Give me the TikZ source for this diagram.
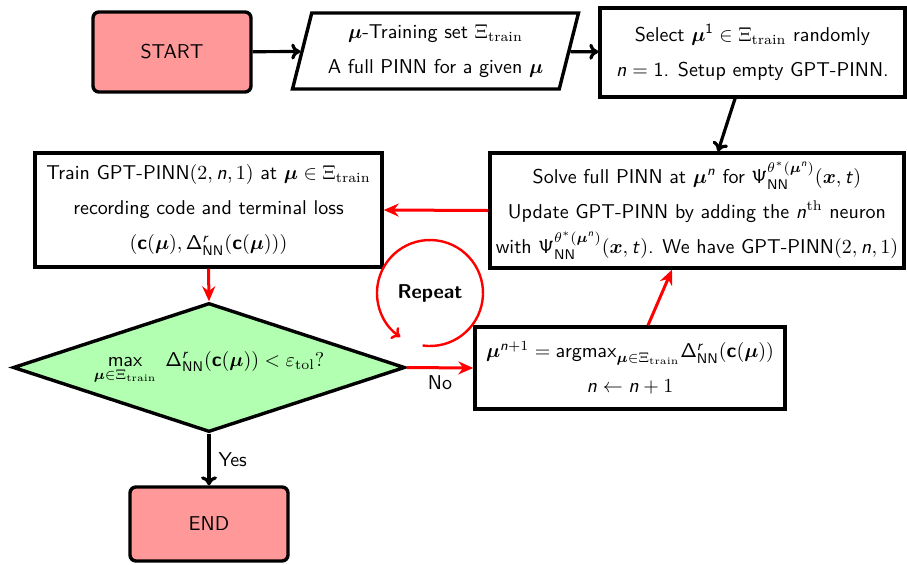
\documentclass[tikz,border=0pt]{standalone}
\usepackage{amsmath,amssymb}
\usepackage{fontspec}
\usetikzlibrary{shapes.geometric,arrows.meta,calc}
% sans-serif math letters
\DeclareMathAlphabet{\mathsfup}{OT1}{cmss}{m}{n}
\DeclareMathAlphabet{\mathsfit}{OT1}{cmss}{m}{sl}
\DeclareMathAlphabet{\mathsfbf}{OT1}{cmss}{bx}{n}
\newcommand{\bmu}{\boldsymbol{\mu}}
\newcommand{\Xtr}{\Xi_{\mathrm{train}}}
\newcommand{\sn}{\mathsfit{n}}
\newcommand{\cmu}{\mathsfbf{c}(\bmu)}
\newcommand{\DNN}{\mathsfup{\Delta}^{\mathsfit{r}}_{\mathsfup{NN}}}
\newcommand{\PsiNN}{\mathsfup{\Psi}^{\theta^*(\bmu^{\sn})}_{\mathsfup{NN}}(\boldsymbol{x},\mathsfit{t})}
\begin{document}
\begin{tikzpicture}[x=0.5pt,y=-0.5pt,
  txt/.style={font=\sffamily\setlength{\baselineskip}{17.5pt}\setlength{\lineskiplimit}{-30pt},
              align=center, inner sep=0pt},
  box/.style={txt, draw, line width=1.7pt, rectangle},
  term/.style={box, rounded corners=3pt, fill=red!40, minimum width=79pt},
  blk/.style={line width=1.6pt, -{To[length=4.5pt,width=8pt]}},
  redarr/.style={red, line width=1.5pt, -{Stealth[length=7.5pt,width=6.5pt]}}]
\useasboundingbox (0,0) rectangle (907,564);

% top row
\node[term, minimum height=40pt] (start) at (172,52) {START};
\node[txt, draw, line width=1.7pt, shape=trapezium, trapezium left angle=70,
      trapezium right angle=110, trapezium stretches body,
      minimum width=143pt, minimum height=38pt] (para) at (435.5,51)
  {$\bmu$-Training set $\Xtr$\\ A full PINN for a given $\bmu$};
\node[box, minimum width=152.5pt, minimum height=44.5pt] (select) at (752.5,52.5)
  {Select $\bmu^{\mathsfup{1}} \in \Xtr$ randomly\\ $\sn=\mathsfup{1}$. Setup empty GPT-PINN.};

% middle row
\node[box, minimum width=207pt, minimum height=57.5pt] (solve) at (697,210.5)
  {Solve full PINN at $\bmu^{\sn}$ for $\PsiNN$\\
   Update GPT-PINN by adding the $\sn^{\mathrm{th}}$ neuron\\
   with $\PsiNN$. We have GPT-PINN$(2,\sn,1)$};
\node[box, minimum width=173.5pt, minimum height=57pt] (train) at (208.5,210)
  {Train GPT-PINN$(2,\sn,1)$ at $\bmu\in\Xtr$\\
   recording code and terminal loss\\
   $(\cmu,\DNN(\cmu))$};

% decision and update
\node[txt, draw, line width=1.7pt, shape=diamond, aspect=3.04, fill=green!30,
      minimum width=196pt, minimum height=64.5pt] (test) at (209,367.5)
  {$\mathop{\mathsfup{max}}\limits_{\bmu\in\Xtr}\;\DNN(\cmu) < \varepsilon_{\mathrm{tol}}?$};
\node[box, minimum width=155pt, minimum height=41pt] (argmax) at (630,368)
  {$\bmu^{\sn+1} = \mathsfup{argmax}_{\bmu\in\Xtr}\DNN(\cmu)$\\
   $\sn \leftarrow \sn+1$};
\node[term, minimum height=37pt] (end) at (209,524) {END};

% loop marker
\node[txt, font=\sffamily\bfseries] (rep) at (430,293) {Repeat};
\draw[red, line width=1.2pt, -{To[length=4pt,width=7pt]}]
  ($(rep.center)+(-98:26.5pt)$) arc[start angle=-98, end angle=236, radius=26.5pt];

% connectors
\draw[blk] (start) -- (para);
\draw[blk] (para) -- (select);
\draw[blk] ([xshift=-8.75pt]select.south) -- ([xshift=10.5pt]solve.north);
\draw[redarr] (solve.west) -- (train.east);
\draw[redarr] (train.south) -- (test.north);
\draw[redarr] (test.east) -- node[below=3pt, txt, black] {No} (argmax.west);
\draw[redarr] ([xshift=9pt]argmax.north) -- ([xshift=-12.5pt]solve.south);
\draw[blk] (test.south) -- node[right=4pt, txt] {Yes} (end.north);
\end{tikzpicture}
\end{document}
